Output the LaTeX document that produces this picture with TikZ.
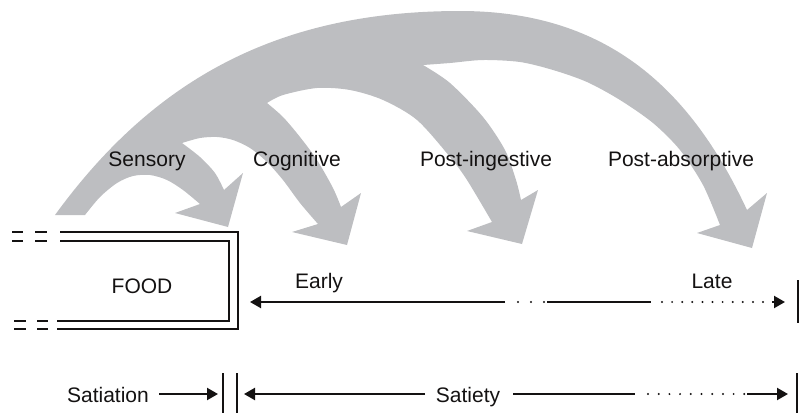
\documentclass[tikz,border=0pt]{standalone}
\usepackage{fontspec}
\setmainfont{Liberation Sans}
\usetikzlibrary{arrows.meta}
\definecolor{band}{RGB}{189,190,193}
\definecolor{ink}{RGB}{20,18,18}
\begin{document}
\begin{tikzpicture}[x=1pt,y=-1pt,
  lbl/.style={font=\fontsize{21}{25}\selectfont, inner sep=0pt, anchor=base, text=ink},
  ln/.style={line width=2.1pt, draw=ink},
  tipped/.style={-{Triangle[length=11pt,width=12pt]}},
  barline/.style={line width=2.4pt, draw=ink},
  dotmark/.style={fill=ink},
]
\useasboundingbox (0,0) rectangle (809,413);

% gray branching arrows
\fill[band] (55,215) .. controls (155,77.5) and (280,11) .. (460,11)
 .. controls (610,11) and (692,92) .. (747,210)
 -- (767,193) -- (752,248) -- (697,233) -- (720,225)
 -- plot[smooth] coordinates {(720,225) (703,185) (680,150) (653,123) (620,100) (587,82) (553,70) (520,62) (483,60) (450,63) (423,65)}
 -- plot[smooth] coordinates {(423,65) (450,83) (483,117) (505,150) (516,180) (521,200)}
 -- (538,190) -- (522,244) -- (467,231) -- (492,222)
 -- plot[smooth] coordinates {(492,222) (467,180) (450,157) (417,120) (383,100) (350,90) (317,88) (283,95) (267,103)}
 -- plot[smooth] coordinates {(267,103) (283,117) (300,137) (317,160) (333,188) (341,207)}
 -- (361,193) -- (347,245) -- (292,232) -- (318,224)
 -- plot[smooth] coordinates {(318,224) (300,203) (283,180) (267,162) (250,148) (233,140) (217,137) (200,138) (182,143)}
 -- plot[smooth] coordinates {(182,143) (200,157) (215,173) (224,190)}
 -- (243,173) -- (228,227) -- (175,213) -- (200,204)
 -- plot[smooth] coordinates {(200,204) (183,190) (167,180) (150,175) (133,176) (117,183) (100,197) (85,215)}
 -- cycle;

% labels of the arrows
\node[lbl] (sens) at (147,166) {Sensory};
\node[lbl] (cogn) at (297,166) {Cognitive};
\node[lbl] (ping) at (486,166) {Post-ingestive};
\node[lbl] (pabs) at (681,166) {Post-absorptive};

% FOOD box (double line)
\draw[ln, miter limit=4] (60,232) -- (238,232) -- (238,329) -- (57,329);
\draw[ln, miter limit=4] (60,241) -- (229,241) -- (229,321) -- (57,321);
\draw[ln] (12,232) -- (23,232) (35,232) -- (47,232)
          (12,241) -- (23,241) (35,241) -- (47,241)
          (14,321) -- (26,321) (37,321) -- (48,321)
          (14,329) -- (26,329) (37,329) -- (48,329);
\node[lbl] (food) at (142,293) {FOOD};

% Early / Late line
\coordinate (eTip) at (250,302);
\coordinate (eA) at (505,302);
\coordinate (eB) at (547,302);
\coordinate (eC) at (651,302);
\coordinate (eD) at (772,302);
\coordinate (eE) at (785,302);
\coordinate (lbTop) at (798,280);
\coordinate (lbBot) at (798,323);
\draw[ln, tipped] (eA) -- (eTip);
\draw[ln] (eB) -- (eC);
\foreach \x in {518,531,544} \fill[dotmark] (\x,302) circle (1.1);
\foreach \i in {0,...,10} \fill[dotmark] ({662+10.1*\i},302) circle (1.1);
\draw[ln, tipped] (eD) -- (eE);
\draw[barline] (lbTop) -- (lbBot);
\node[lbl] (early) at (319,288) {Early};
\node[lbl] (late) at (712,288) {Late};

% Satiation / Satiety line
\node[lbl] (satn) at (108,402) {Satiation};
\node[lbl] (saty) at (468,402) {Satiety};
\coordinate (sA) at (159,394);
\coordinate (sB) at (218,394);
\coordinate (b1T) at (223,373); \coordinate (b1B) at (223,413);
\coordinate (b2T) at (237,373); \coordinate (b2B) at (237,413);
\coordinate (b3T) at (797,373); \coordinate (b3B) at (797,413);
\coordinate (tL) at (244,394);
\coordinate (tA) at (425,394);
\coordinate (tB) at (513,394);
\coordinate (tC) at (635,394);
\coordinate (tD) at (747,394);
\coordinate (tE) at (788,394);
\draw[ln, tipped] (sA) -- (sB);
\draw[barline] (b1T) -- (b1B);
\draw[barline] (b2T) -- (b2B);
\draw[barline] (b3T) -- (b3B);
\draw[ln, tipped] (tA) -- (tL);
\draw[ln] (tB) -- (tC);
\foreach \i in {0,...,9} \fill[dotmark] ({648+10.7*\i},394) circle (1.1);
\draw[ln, tipped] (tD) -- (tE);
\end{tikzpicture}
\end{document}
